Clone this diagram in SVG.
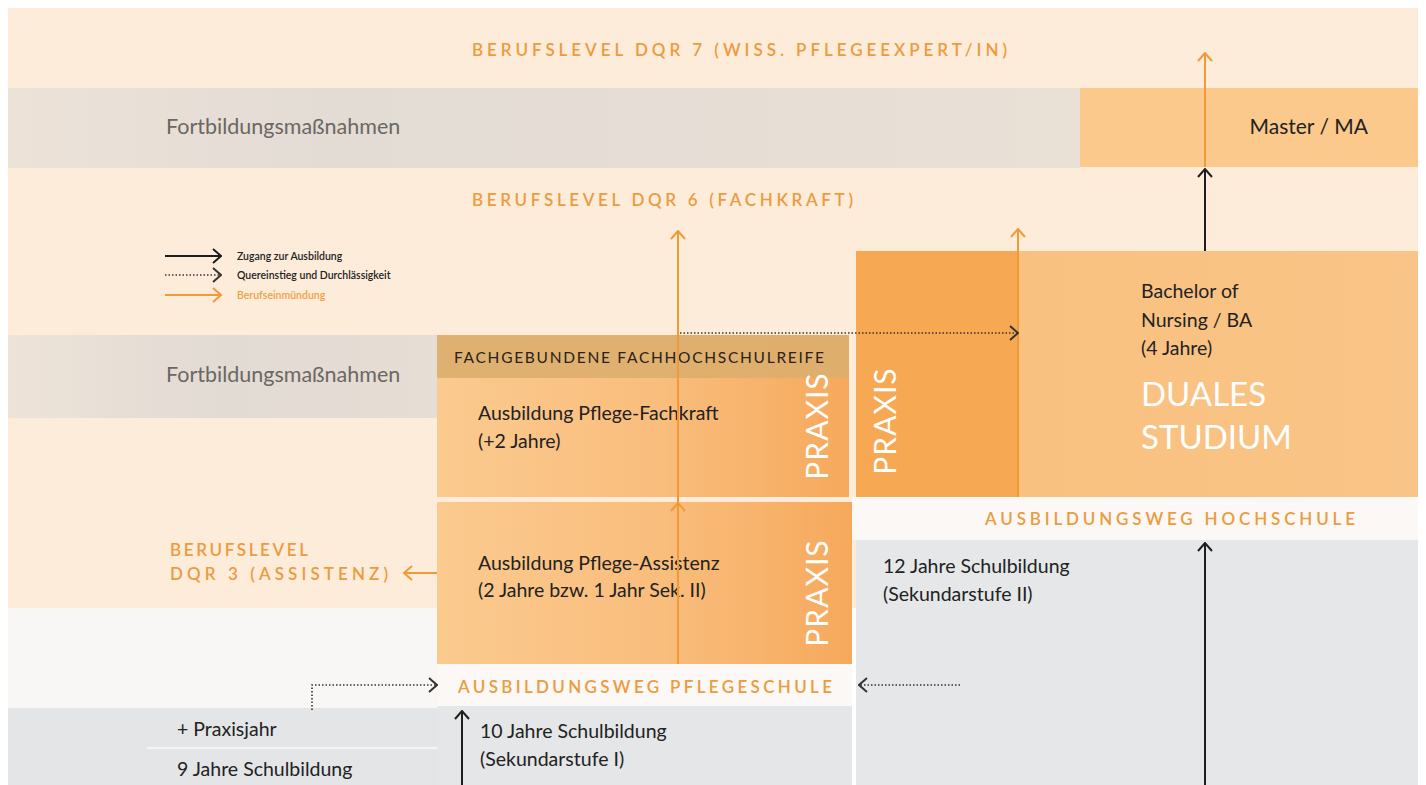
<svg xmlns="http://www.w3.org/2000/svg" width="1426" height="785" viewBox="0 0 1426 785">
<defs>
<style>
.lvl{font-family:Lato,"Open Sans",sans-serif;font-size:17px;fill:#ec9b3e;font-weight:600}
.body{font-family:Lato,"Open Sans",sans-serif;font-size:19.5px;fill:#222}
.fort{font-family:Lato,"Open Sans",sans-serif;font-size:21.5px;fill:#6b6762}
.leg{font-family:Lato,"Open Sans",sans-serif;font-size:10.5px;fill:#222;font-weight:600}
.prx{font-family:Lato,"Open Sans",sans-serif;font-size:30px;fill:#fff;letter-spacing:1px}
.blk{fill:none;stroke:#1e1e1e;stroke-width:2}
.dot{fill:none;stroke:#333;stroke-width:1.6;stroke-dasharray:1.5 2}
.org{fill:none;stroke:#f29a35;stroke-width:2}
</style>
<marker id="mb" viewBox="0 0 10 16" refX="9" refY="8" markerWidth="10" markerHeight="16" orient="auto" markerUnits="userSpaceOnUse"><path d="M1,1 L9,8 L1,15" fill="none" stroke="#1e1e1e" stroke-width="2"/></marker>
<marker id="md" viewBox="0 0 10 16" refX="9" refY="8" markerWidth="10" markerHeight="16" orient="auto" markerUnits="userSpaceOnUse"><path d="M1,1 L9,8 L1,15" fill="none" stroke="#333" stroke-width="2"/></marker>
<marker id="mo" viewBox="0 0 10 16" refX="9" refY="8" markerWidth="10" markerHeight="16" orient="auto" markerUnits="userSpaceOnUse"><path d="M1,1 L9,8 L1,15" fill="none" stroke="#f29a35" stroke-width="2"/></marker>
<linearGradient id="gband" x1="0" y1="0" x2="1" y2="0">
<stop offset="0" stop-color="#ece2d8"/><stop offset="0.3" stop-color="#e3dcd5"/><stop offset="1" stop-color="#e9e0d6"/>
</linearGradient>
<linearGradient id="gband2" x1="0" y1="0" x2="1" y2="0">
<stop offset="0" stop-color="#ede3d8"/><stop offset="0.5" stop-color="#e2dbd4"/><stop offset="1" stop-color="#e6ddd4"/>
</linearGradient>
<linearGradient id="gbox" x1="0" y1="0" x2="1" y2="0">
<stop offset="0" stop-color="#fbca8f"/><stop offset="0.55" stop-color="#f9bd7c"/><stop offset="1" stop-color="#f6a95c"/>
</linearGradient>
<linearGradient id="gbach" x1="0" y1="0" x2="1" y2="0">
<stop offset="0" stop-color="#f9c07c"/><stop offset="1" stop-color="#f9c487"/>
</linearGradient>
</defs>
<rect width="1426" height="785" fill="#ffffff"/>
<g id="background">
<rect x="8" y="8" width="1410" height="600" fill="#fdecda"/>
<rect x="8" y="608" width="430" height="100" fill="#f9f7f5"/>
<rect x="8" y="708" width="430" height="77" fill="#e4e5e6"/>
<rect x="437" y="706" width="415" height="79" fill="#e4e6e7"/>
<rect x="856" y="540" width="562" height="245" fill="#e5e7e8"/>
<rect x="852" y="497" width="566" height="43" fill="#fbf8f5"/>
<rect x="437" y="664" width="415" height="42" fill="#fbf8f5"/>
<line x1="147" y1="748" x2="437" y2="748" stroke="#f4f4f4" stroke-width="2"/>
</g>
<g id="fort-top">
<rect x="8" y="88" width="1072" height="80" fill="url(#gband)"/>
<text class="fort" x="166" y="134">Fortbildungsmaßnahmen</text>
</g>
<g id="fort-mid">
<rect x="8" y="335" width="429" height="83" fill="url(#gband2)"/>
<text class="fort" x="166" y="382">Fortbildungsmaßnahmen</text>
</g>
<g id="master">
<rect x="1080" y="88" width="338" height="79" fill="#fbc98c"/>
<text class="body" x="1368" y="134" text-anchor="end" style="font-size:21px">Master / MA</text>
</g>
<g id="fachkraft">
<rect x="437" y="335" width="412" height="162" fill="url(#gbox)"/>
<rect x="437" y="335" width="412" height="43" fill="#dcae6e" opacity="0.9"/>
<text x="454" y="363" font-family="Lato,'Open Sans',sans-serif" font-size="15.5" fill="#2a2118" textLength="370" lengthAdjust="spacing">FACHGEBUNDENE FACHHOCHSCHULREIFE</text>
<text class="body" x="478" y="420">Ausbildung Pflege-Fachkraft</text>
<text class="body" x="478" y="448">(+2 Jahre)</text>
<text class="prx" transform="translate(828,426) rotate(-90)" text-anchor="middle">PRAXIS</text>
</g>
<g id="assistenz">
<rect x="437" y="502" width="415" height="162" fill="url(#gbox)"/>
<text class="body" x="478" y="570">Ausbildung Pflege-Assistenz</text>
<text class="body" x="478" y="597">(2 Jahre bzw. 1 Jahr Sek. II)</text>
<text class="prx" transform="translate(828,593) rotate(-90)" text-anchor="middle">PRAXIS</text>
</g>
<g id="bachelor">
<rect x="856" y="251" width="562" height="246" fill="url(#gbach)"/>
<rect x="856" y="251" width="162" height="246" fill="#f6a853"/>
<text class="prx" transform="translate(896,421) rotate(-90)" text-anchor="middle">PRAXIS</text>
<text class="body" x="1141" y="298">Bachelor of</text>
<text class="body" x="1141" y="327">Nursing / BA</text>
<text class="body" x="1141" y="355">(4 Jahre)</text>
<text x="1141" y="406" font-family="Lato,'Open Sans',sans-serif" font-size="33" fill="#fff">DUALES</text>
<text x="1141" y="449" font-family="Lato,'Open Sans',sans-serif" font-size="33" fill="#fff">STUDIUM</text>
</g>
<g id="labels">
<text class="lvl" x="472" y="56" textLength="535" lengthAdjust="spacing">BERUFSLEVEL DQR 7  (WISS. PFLEGEEXPERT/IN)</text>
<text class="lvl" x="472" y="206" textLength="381" lengthAdjust="spacing">BERUFSLEVEL DQR 6  (FACHKRAFT)</text>
<text class="lvl" x="170" y="556" textLength="138" lengthAdjust="spacing">BERUFSLEVEL</text>
<text class="lvl" x="170" y="580" textLength="218" lengthAdjust="spacing">DQR 3  (ASSISTENZ)</text>
<text class="lvl" x="985" y="525" textLength="370" lengthAdjust="spacing">AUSBILDUNGSWEG HOCHSCHULE</text>
<text class="lvl" x="458" y="693" textLength="374" lengthAdjust="spacing">AUSBILDUNGSWEG PFLEGESCHULE</text>
</g>
<g id="schule12">
<text class="body" x="883" y="573">12 Jahre Schulbildung</text>
<text class="body" x="883" y="601">(Sekundarstufe II)</text>
</g>
<g id="schule10">
<text class="body" x="480" y="738">10 Jahre Schulbildung</text>
<text class="body" x="480" y="766">(Sekundarstufe I)</text>
</g>
<g id="schule9">
<text class="body" x="177" y="736">+ Praxisjahr</text>
<text class="body" x="177" y="776">9 Jahre Schulbildung</text>
</g>
<g id="legend">
<line class="blk" x1="165" y1="256" x2="221" y2="256" marker-end="url(#mb)"/>
<line class="dot" x1="165" y1="275" x2="221" y2="275" marker-end="url(#md)"/>
<line class="org" x1="165" y1="295" x2="221" y2="295" marker-end="url(#mo)"/>
<text class="leg" x="237" y="260">Zugang zur Ausbildung</text>
<text class="leg" x="237" y="279">Quereinstieg und Durchlässigkeit</text>
<text class="leg" x="237" y="299" style="fill:#f0a040">Berufseinmündung</text>
</g>
<g id="connectors">
<line class="org" x1="1205" y1="167" x2="1205" y2="53" marker-end="url(#mo)"/>
<line class="blk" x1="1205" y1="251" x2="1205" y2="169" marker-end="url(#mb)"/>
<line class="org" x1="678" y1="664" x2="678" y2="503" marker-end="url(#mo)"/>
<line class="org" x1="678" y1="503" x2="678" y2="231" marker-end="url(#mo)"/>
<line class="org" x1="1018" y1="497" x2="1018" y2="229" marker-end="url(#mo)"/>
<line class="org" x1="437" y1="573" x2="404" y2="573" marker-end="url(#mo)"/>
<line class="dot" x1="680" y1="333" x2="1018" y2="333" marker-end="url(#md)"/>
<line class="blk" x1="1205" y1="785" x2="1205" y2="543" marker-end="url(#mb)"/>
<line class="blk" x1="462" y1="785" x2="462" y2="711" marker-end="url(#mb)"/>
<line class="dot" x1="960" y1="685" x2="859" y2="685" marker-end="url(#md)"/>
<polyline class="dot" points="312,710 312,685 437,685" marker-end="url(#md)"/>
</g>
</svg>
